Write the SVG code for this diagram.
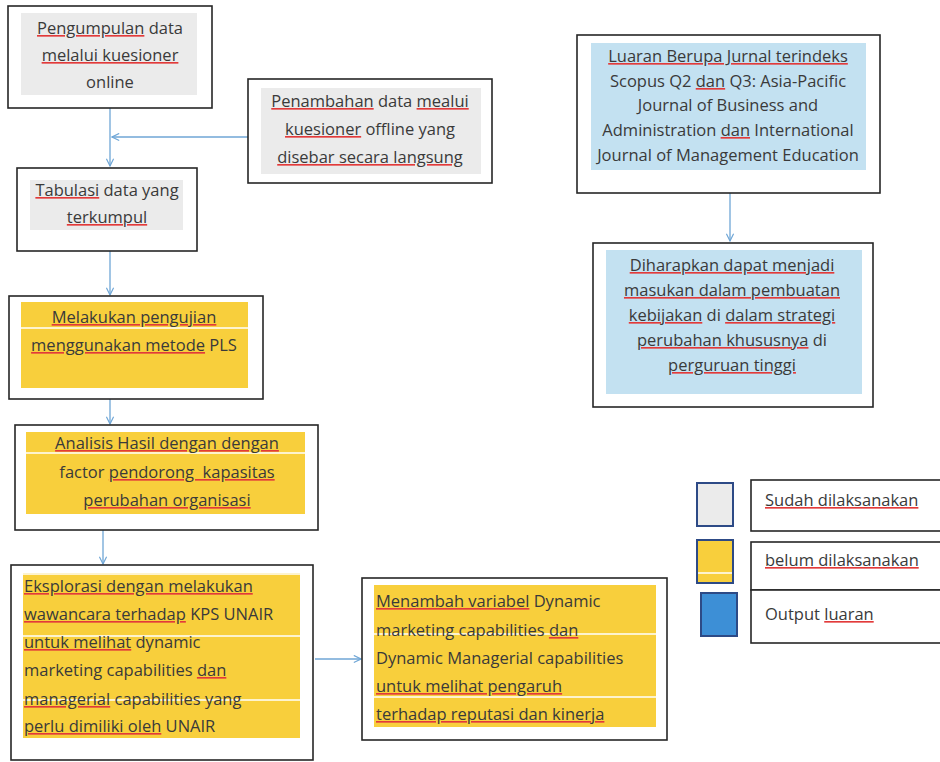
<svg xmlns="http://www.w3.org/2000/svg" width="940" height="762" viewBox="0 0 940 762">
<defs>
<style>
.box{fill:#fff;stroke:#262626;stroke-width:1.6}
.gray{fill:#ebebeb}
.yel{fill:#f8cf3c}
.blu{fill:#c3e1f1}
.wl{stroke:#fff;stroke-width:1.5}
.t{font-family:"Open Sans","Liberation Sans",sans-serif;font-size:16.5px;fill:#3a3a3a}
.c{text-anchor:middle}
.sp{text-decoration:underline;fill:#e23a3a}
.w{fill:#3a3a3a}
.con{fill:none;stroke:#6fa6d6;stroke-width:1.3}
</style>
<marker id="ah" viewBox="0 0 10 10" refX="9" refY="5" markerWidth="9" markerHeight="9" orient="auto" markerUnits="userSpaceOnUse">
<path d="M1,1 L9,5 L1,9" fill="none" stroke="#6fa6d6" stroke-width="1.3"/>
</marker>
</defs>
<rect width="940" height="762" fill="#fff"/>

<g id="connectors">
<path class="con" d="M110,108 V166" marker-end="url(#ah)"/>
<path class="con" d="M248,137 H112" marker-end="url(#ah)"/>
<path class="con" d="M110,251 V295" marker-end="url(#ah)"/>
<path class="con" d="M110,399 V424" marker-end="url(#ah)"/>
<path class="con" d="M103,530 V564" marker-end="url(#ah)"/>
<path class="con" d="M315,659 H361" marker-end="url(#ah)"/>
<path class="con" d="M730,193 V241" marker-end="url(#ah)"/>
</g>

<g id="n1">
<rect class="box" x="8" y="6" width="204" height="102"/>
<rect class="gray" x="21" y="13" width="176" height="82"/>
<text class="t c" x="110" y="34"><tspan class="sp"><tspan class="w">Pengumpulan</tspan></tspan> data</text>
<text class="t c" x="110" y="61"><tspan class="sp"><tspan class="w">melalui kuesioner</tspan></tspan></text>
<text class="t c" x="110" y="88">online</text>
</g>

<g id="n2">
<rect class="box" x="248" y="79" width="244" height="104"/>
<rect class="gray" x="261" y="88" width="220" height="86"/>
<text class="t c" x="370" y="107"><tspan class="sp"><tspan class="w">Penambahan</tspan></tspan> data <tspan class="sp"><tspan class="w">mealui</tspan></tspan></text>
<text class="t c" x="370" y="135"><tspan class="sp"><tspan class="w">kuesioner</tspan></tspan> offline yang</text>
<text class="t c" x="370" y="163"><tspan class="sp"><tspan class="w">disebar secara langsung</tspan></tspan></text>
</g>

<g id="n3">
<rect class="box" x="17" y="168" width="180" height="83"/>
<rect class="gray" x="30" y="180" width="153" height="50"/>
<text class="t c" x="107" y="196"><tspan class="sp"><tspan class="w">Tabulasi</tspan></tspan> data yang</text>
<text class="t c" x="107" y="223"><tspan class="sp"><tspan class="w">terkumpul</tspan></tspan></text>
</g>

<g id="n4">
<rect class="box" x="9" y="296" width="254" height="103"/>
<rect class="yel" x="21" y="302" width="227" height="86"/>
<line class="wl" x1="21" y1="328" x2="248" y2="328"/>
<text class="t c" x="134" y="323"><tspan class="sp"><tspan class="w">Melakukan pengujian</tspan></tspan></text>
<text class="t c" x="134" y="351"><tspan class="sp"><tspan class="w">menggunakan metode</tspan></tspan> PLS</text>
</g>

<g id="n5">
<rect class="box" x="15" y="425" width="303" height="105"/>
<rect class="yel" x="26" y="432" width="279" height="82"/>
<line class="wl" x1="26" y1="453" x2="305" y2="453"/>
<line class="wl" x1="26" y1="515" x2="305" y2="515"/>
<text class="t c" x="167" y="449"><tspan class="sp"><tspan class="w">Analisis Hasil dengan dengan</tspan></tspan></text>
<text class="t c" x="167" y="478" xml:space="preserve">factor <tspan class="sp"><tspan class="w">pendorong  kapasitas</tspan></tspan></text>
<text class="t c" x="167" y="506"><tspan class="sp"><tspan class="w">perubahan organisasi</tspan></tspan></text>
</g>

<g id="n6">
<rect class="box" x="11" y="565" width="302" height="195"/>
<rect class="yel" x="23" y="573" width="277" height="165"/>
<line class="wl" x1="23" y1="574" x2="300" y2="574"/>
<line class="wl" x1="23" y1="636" x2="300" y2="636"/>
<line class="wl" x1="23" y1="700" x2="300" y2="700"/>
<text class="t" x="24" y="592"><tspan class="sp"><tspan class="w">Eksplorasi dengan melakukan</tspan></tspan></text>
<text class="t" x="24" y="620"><tspan class="sp"><tspan class="w">wawancara terhadap</tspan></tspan> KPS UNAIR</text>
<text class="t" x="24" y="648"><tspan class="sp"><tspan class="w">untuk melihat</tspan></tspan> dynamic</text>
<text class="t" x="24" y="676">marketing capabilities <tspan class="sp"><tspan class="w">dan</tspan></tspan></text>
<text class="t" x="24" y="705"><tspan class="sp"><tspan class="w">managerial</tspan></tspan> capabilities yang</text>
<text class="t" x="24" y="732"><tspan class="sp"><tspan class="w">perlu dimiliki oleh</tspan></tspan> UNAIR</text>
</g>

<g id="n7">
<rect class="box" x="362" y="578" width="305" height="162"/>
<rect class="yel" x="374" y="585" width="282" height="142"/>
<line class="wl" x1="374" y1="634" x2="656" y2="634"/>
<line class="wl" x1="374" y1="697" x2="656" y2="697"/>
<text class="t" x="376" y="607"><tspan class="sp"><tspan class="w">Menambah variabel</tspan></tspan> Dynamic</text>
<text class="t" x="376" y="636">marketing capabilities <tspan class="sp"><tspan class="w">dan</tspan></tspan></text>
<text class="t" x="376" y="664">Dynamic Managerial capabilities</text>
<text class="t" x="376" y="692"><tspan class="sp"><tspan class="w">untuk melihat pengaruh</tspan></tspan></text>
<text class="t" x="376" y="720"><tspan class="sp"><tspan class="w">terhadap reputasi dan kinerja</tspan></tspan></text>
</g>

<g id="n8">
<rect class="box" x="577" y="35" width="303" height="158"/>
<rect class="blu" x="591" y="43" width="275" height="127"/>
<text class="t c" x="728" y="62"><tspan class="sp"><tspan class="w">Luaran Berupa Jurnal terindeks</tspan></tspan></text>
<text class="t c" x="728" y="87">Scopus Q2 <tspan class="sp"><tspan class="w">dan</tspan></tspan> Q3: Asia-Pacific</text>
<text class="t c" x="728" y="111">Journal of Business and</text>
<text class="t c" x="728" y="136">Administration <tspan class="sp"><tspan class="w">dan</tspan></tspan> International</text>
<text class="t c" x="728" y="161">Journal of Management Education</text>
</g>

<g id="n9">
<rect class="box" x="593" y="243" width="280" height="164"/>
<rect class="blu" x="606" y="250" width="256" height="144"/>
<text class="t c" x="732" y="271"><tspan class="sp"><tspan class="w">Diharapkan dapat menjadi</tspan></tspan></text>
<text class="t c" x="732" y="296"><tspan class="sp"><tspan class="w">masukan dalam pembuatan</tspan></tspan></text>
<text class="t c" x="732" y="321"><tspan class="sp"><tspan class="w">kebijakan</tspan></tspan> di <tspan class="sp"><tspan class="w">dalam strategi</tspan></tspan></text>
<text class="t c" x="732" y="346"><tspan class="sp"><tspan class="w">perubahan khususnya</tspan></tspan> di</text>
<text class="t c" x="732" y="371"><tspan class="sp"><tspan class="w">perguruan tinggi</tspan></tspan></text>
</g>

<g id="legend">
<rect x="697" y="483" width="36" height="43" fill="#ebebeb" stroke="#2d4a86" stroke-width="2"/>
<rect class="box" x="751" y="480" width="195" height="51"/>
<text class="t" x="765" y="506"><tspan class="sp"><tspan class="w">Sudah dilaksanakan</tspan></tspan></text>
<rect x="697" y="540" width="36" height="43" fill="#f8cf3c" stroke="#2d4a86" stroke-width="2"/>
<line class="wl" x1="698" y1="573" x2="732" y2="573"/>
<rect class="box" x="751" y="542" width="195" height="48"/>
<text class="t" x="765" y="566"><tspan class="sp"><tspan class="w">belum dilaksanakan</tspan></tspan></text>
<rect x="701" y="593" width="36" height="43" fill="#3d8fd6" stroke="#2d4a86" stroke-width="2"/>
<rect class="box" x="751" y="590" width="195" height="53"/>
<text class="t" x="765" y="620">Output <tspan class="sp"><tspan class="w">luaran</tspan></tspan></text>
</g>
</svg>
